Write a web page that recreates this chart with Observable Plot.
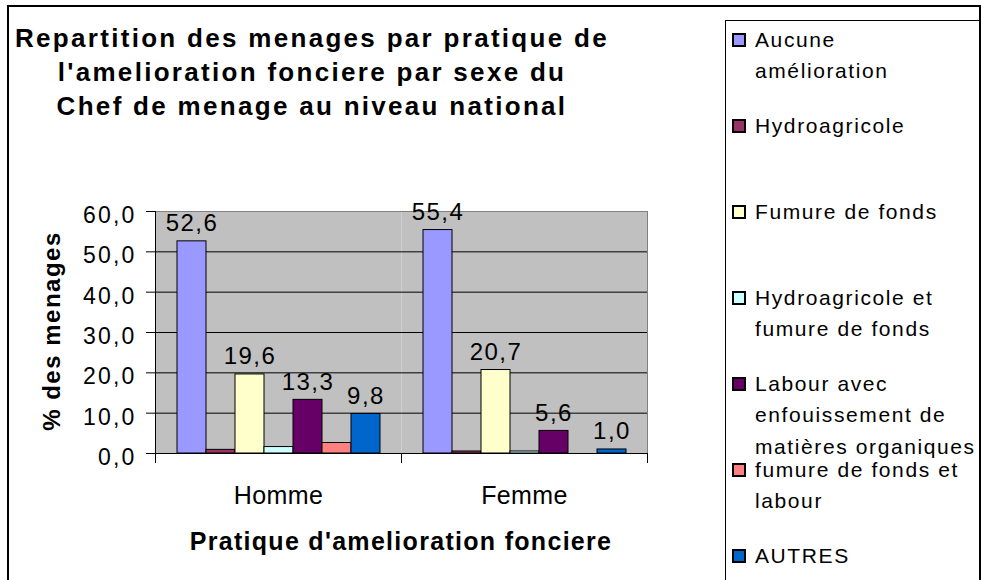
<!DOCTYPE html>
<html>
<head>
<meta charset="utf-8">
<script src="https://cdn.jsdelivr.net/npm/d3@7"></script>
<script src="https://cdn.jsdelivr.net/npm/@observablehq/plot@0.6"></script>
<style>
  html, body { margin: 0; padding: 0; background: #fff; }
  body { width: 981px; height: 580px; overflow: hidden; font-family: "Liberation Sans", Arial, sans-serif; color: #000; }
  #wrap { position: relative; width: 981px; height: 580px; overflow: hidden; }
  #plot { position: absolute; left: 0; top: 0; }
  #title { position: absolute; left: 12px; top: 21px; width: 600px; text-align: center; font-weight: bold; font-size: 26px; line-height: 34px; letter-spacing: 2.3px; white-space: pre; }
  #ytitle { position: absolute; left: 52px; top: 331px; transform: translate(-50%, -50%) rotate(-90deg); font-weight: bold; font-size: 24px; letter-spacing: 1.5px; white-space: nowrap; }
  #xtitle { position: absolute; left: 401px; top: 526px; transform: translateX(-50%); font-weight: bold; font-size: 25px; line-height: 30px; letter-spacing: 1.3px; white-space: nowrap; }
  #legend { position: absolute; left: 725px; top: 20px; width: 255px; height: 640px; box-sizing: border-box; border: 1px solid #000; }
  .sw { position: absolute; left: 6px; width: 10px; height: 10px; border: 2px solid #000; }
  .lt { position: absolute; left: 29px; font-size: 21px; line-height: 31.5px; letter-spacing: 1.6px; white-space: pre; }
  #border { position: absolute; left: 7px; top: 5px; width: 974px; height: 700px; box-sizing: border-box; border: 2px solid #000; pointer-events: none; }
  #plot g[aria-label="y-axis tick label"] text { letter-spacing: 2.2px; }
  #plot g[aria-label="fx-axis tick label"] text { letter-spacing: 0.4px; }
  #plot g[aria-label="text"] text { letter-spacing: 1.5px; }
</style>
</head>
<body>
<div id="wrap">
  <div id="plot"></div>
  <div id="title"></div>
  <div id="ytitle"></div>
  <div id="xtitle"></div>
  <div id="legend"></div>
  <div id="border"></div>
</div>
<script>
// ---- data ----
const titleLines = ["Repartition des menages par pratique de", "l'amelioration fonciere par sexe du", "Chef de menage au niveau national"];
const yTitle = "% des menages";
const xTitle = "Pratique d'amelioration fonciere";
const sexes = ["Homme", "Femme"];
const series = [
  "Aucune amélioration",
  "Hydroagricole",
  "Fumure de fonds",
  "Hydroagricole et fumure de fonds",
  "Labour avec enfouissement de matières organiques",
  "fumure de fonds et labour",
  "AUTRES"
];
const legendLabels = [
  "Aucune\namélioration",
  "Hydroagricole",
  "Fumure de fonds",
  "Hydroagricole et\nfumure de fonds",
  "Labour avec\nenfouissement de\nmatières organiques",
  "fumure de fonds et\nlabour",
  "AUTRES"
];
const colors = ["#9999FF", "#993366", "#FFFFCC", "#CCFFFF", "#660066", "#FF8080", "#0066CC"];
const homme = [52.6, 0.9, 19.6, 1.6, 13.3, 2.6, 9.8];
const femme = [55.4, 0.5, 20.7, 0.5, 5.6, 0.0, 1.0];
const labelledSeries = ["Aucune amélioration", "Fumure de fonds", "Labour avec enfouissement de matières organiques", "AUTRES"];
const yTicks = [0, 10, 20, 30, 40, 50, 60];

// ---- build ----
const values = {Homme: homme, Femme: femme};
const data = sexes.flatMap(s => series.map((k, j) => ({sexe: s, serie: k, value: values[s][j]})));
const fmt = v => v.toFixed(1).replace(".", ",");

document.getElementById("title").textContent = titleLines.join("\n");
document.getElementById("ytitle").textContent = yTitle;
document.getElementById("xtitle").textContent = xTitle;

const chart = Plot.plot({
  width: 720,
  height: 580,
  marginTop: 211,
  marginBottom: 127,
  marginLeft: 155,
  marginRight: 73,
  style: {background: "transparent", fontFamily: "'Liberation Sans', Arial, sans-serif", color: "#000"},
  fx: {domain: sexes, padding: 0, label: null},
  x: {domain: series, paddingInner: 0, paddingOuter: 0.72, axis: null},
  y: {domain: [0, 60], label: null},
  color: {domain: series, range: colors},
  marks: [
    Plot.frame({fill: "#C0C0C0", stroke: "none"}),
    Plot.gridY(yTicks, {stroke: "#000", strokeOpacity: 1}),
    Plot.ruleY([60], {stroke: "#808080"}),
    Plot.frame({anchor: "right", facetAnchor: "right", stroke: "#808080"}),
    Plot.barY(data.filter(d => d.value > 0), {fx: "sexe", x: "serie", y: "value", fill: "serie", stroke: "#000", strokeWidth: 1}),
    Plot.ruleY([0], {stroke: "#000"}),
    Plot.frame({anchor: "left", facetAnchor: "left", stroke: "#000"}),
    Plot.frame({anchor: "left", stroke: "#000", insetTop: 242, insetBottom: -9}),
    Plot.frame({anchor: "right", facetAnchor: "right", stroke: "#000", insetTop: 242, insetBottom: -9}),
    Plot.axisY(yTicks, {tickSize: 9, tickFormat: () => "", label: null}),
    Plot.axisY(yTicks, {tickSize: 0, tickPadding: 19, dy: 4, tickFormat: fmt, fontSize: 23, label: null}),
    Plot.axisFx({anchor: "bottom", tickSize: 0, tickPadding: 33, fontSize: 25, label: null}),
    Plot.text(data.filter(d => labelledSeries.includes(d.serie) && d.value > 0), {
      fx: "sexe", x: "serie", y: "value", text: d => fmt(d.value),
      fontSize: 24, lineAnchor: "bottom", dy: -10, fill: "#000"
    })
  ]
});
document.getElementById("plot").appendChild(chart);

// ---- legend ----
const legend = document.getElementById("legend");
series.forEach((s, i) => {
  const sw = document.createElement("div");
  sw.className = "sw";
  sw.style.top = (11.5 + i * 86) + "px";
  sw.style.background = colors[i];
  legend.appendChild(sw);
  const t = document.createElement("div");
  t.className = "lt";
  t.style.top = (2.75 + i * 86) + "px";
  t.textContent = legendLabels[i];
  legend.appendChild(t);
});
</script>
</body>
</html>
